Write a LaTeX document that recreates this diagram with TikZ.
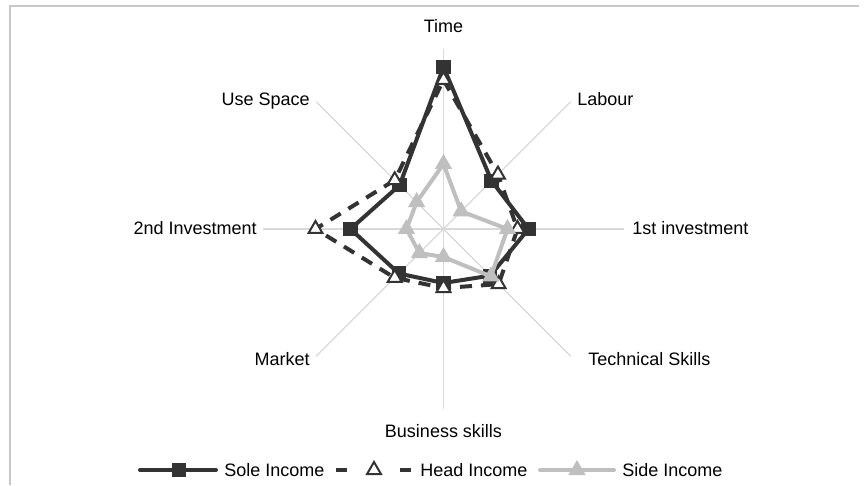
\documentclass[tikz,border=0pt]{standalone}
\usepackage{fontspec}
\setmainfont{Liberation Sans}
\usetikzlibrary{positioning,shapes.geometric}
\definecolor{darkline}{HTML}{333333}
\definecolor{lightline}{HTML}{BFBFBF}
\definecolor{axisline}{HTML}{D9D9D9}
\definecolor{frameline}{HTML}{C8C8C8}
\tikzset{
  axis/.style={axisline, line width=0.9pt},
  soleline/.style={darkline, line width=3pt, line join=round, line cap=round},
  headline/.style={darkline, line width=3pt, dash pattern=on 9pt off 6.75pt},
  sideline/.style={lightline, line width=3pt, line join=round, line cap=round},
  solemark/.style={rectangle, fill=darkline, draw=darkline, line width=0.75pt, minimum size=10pt, inner sep=0pt},
  headmark/.style={regular polygon, regular polygon sides=3, fill=white, draw=darkline, line width=1.5pt, minimum size=12pt, inner sep=0pt},
  sidemark/.style={regular polygon, regular polygon sides=3, fill=lightline, draw=lightline, line width=0.75pt, minimum size=13.5pt, inner sep=0pt},
  axislabel/.style={inner sep=0pt, font=\fontsize{13.5}{16}\selectfont},
}
\begin{document}
\begin{tikzpicture}[x=0.75pt,y=0.75pt]
      \useasboundingbox (-443.5,-256) rectangle (422.5,229);
      %Frame
      \coordinate (f1) at (-433,-256);
      \coordinate (f2) at (-433,223);
      \coordinate (f3) at (415.5,223);
      \draw[frameline, line width=1.5pt] (f1) -- (f2) -- (f3);
      %Axes
      \pgfmathsetmacro{\axisRadius}{180}
      \coordinate (o) at (0,0);
      \coordinate (a1) at (90:\axisRadius);
      \coordinate (a2) at (45:\axisRadius);
      \coordinate (a3) at (0:\axisRadius);
      \coordinate (a4) at (-45:\axisRadius);
      \coordinate (a5) at (-90:\axisRadius);
      \coordinate (a6) at (-135:\axisRadius);
      \coordinate (a7) at (180:\axisRadius);
      \coordinate (a8) at (135:\axisRadius);
      \draw[axis] (o) -- (a1);
      \draw[axis] (o) -- (a2);
      \draw[axis] (o) -- (a3);
      \draw[axis] (o) -- (a4);
      \draw[axis] (o) -- (a5);
      \draw[axis] (o) -- (a6);
      \draw[axis] (o) -- (a7);
      \draw[axis] (o) -- (a8);
      %Axis labels
      \node[axislabel, anchor=base] (time) at (0,196.7) {Time};
      \node[axislabel, anchor=base west] (labour) at (133.5,123.7) {Labour};
      \node[axislabel, anchor=base west] (inv1) at (188.5,-5.3) {1st investment};
      \node[axislabel, anchor=base west] (tech) at (144.5,-136) {Technical Skills};
      \node[axislabel, anchor=base] (business) at (0,-208) {Business skills};
      \node[axislabel, anchor=base east] (market) at (-133.5,-136) {Market};
      \node[axislabel, anchor=base east] (inv2) at (-186.5,-5.3) {2nd Investment};
      \node[axislabel, anchor=base east] (space) at (-133.5,123.7) {Use Space};
      %Sole Income
      \coordinate (s1) at (90:162);
      \coordinate (s2) at (45:68);
      \coordinate (s3) at (0:85);
      \coordinate (s4) at (-45:66);
      \coordinate (s5) at (-90:54);
      \coordinate (s6) at (-135:63);
      \coordinate (s7) at (180:93);
      \coordinate (s8) at (135:62);
      \draw[soleline] (s1) -- (s2) -- (s3) -- (s4) -- (s5) -- (s6) -- (s7) -- (s8) -- cycle;
      \node[solemark] (sm1) at (s1) {};
      \node[solemark] (sm2) at (s2) {};
      \node[solemark] (sm3) at (s3) {};
      \node[solemark] (sm4) at (s4) {};
      \node[solemark] (sm5) at (s5) {};
      \node[solemark] (sm6) at (s6) {};
      \node[solemark] (sm7) at (s7) {};
      \node[solemark] (sm8) at (s8) {};
      %Head Income
      \coordinate (h1) at (90:149);
      \coordinate (h2) at (45:77);
      \coordinate (h3) at (0:74);
      \coordinate (h4) at (-45:78);
      \coordinate (h5) at (-90:59);
      \coordinate (h6) at (-135:69);
      \coordinate (h7) at (180:128);
      \coordinate (h8) at (135:69);
      \draw[headline] (h1) -- (h2) -- (h3) -- (h4) -- (h5) -- (h6) -- (h7) -- (h8) -- cycle;
      \node[headmark] (hm1) at (h1) {};
      \node[headmark] (hm2) at (h2) {};
      \node[headmark] (hm3) at (h3) {};
      \node[headmark] (hm4) at (h4) {};
      \node[headmark] (hm5) at (h5) {};
      \node[headmark] (hm6) at (h6) {};
      \node[headmark] (hm7) at (h7) {};
      \node[headmark] (hm8) at (h8) {};
      %Side Income
      \coordinate (d1) at (90:65);
      \coordinate (d2) at (45:25);
      \coordinate (d3) at (0:64);
      \coordinate (d4) at (-45:67);
      \coordinate (d5) at (-90:28);
      \coordinate (d6) at (-135:34);
      \coordinate (d7) at (180:37);
      \coordinate (d8) at (135:38);
      \draw[sideline] (d1) -- (d2) -- (d3) -- (d4) -- (d5) -- (d6) -- (d7) -- (d8) -- cycle;
      \node[sidemark] (dm1) at (d1) {};
      \node[sidemark] (dm2) at (d2) {};
      \node[sidemark] (dm3) at (d3) {};
      \node[sidemark] (dm4) at (d4) {};
      \node[sidemark] (dm5) at (d5) {};
      \node[sidemark] (dm6) at (d6) {};
      \node[sidemark] (dm7) at (d7) {};
      \node[sidemark] (dm8) at (d8) {};
      %Legend
      \coordinate (la) at (-303.5,-241);
      \coordinate (lb) at (-227.5,-241);
      \draw[soleline] (la) -- (lb);
      \node[solemark] (lsm) at (-264.5,-241) {};
      \node[axislabel, anchor=base west] (lsole) at (-219.5,-247.3) {Sole Income};
      \coordinate (lc) at (-107.5,-241);
      \coordinate (ld) at (-32.5,-241);
      \draw[darkline, line width=3pt, dash pattern=on 8.25pt off 39.75pt on 8.25pt] (lc) -- (ld);
      \node[headmark] (lhm) at (-69.5,-241) {};
      \node[axislabel, anchor=base west] (lhead) at (-23.5,-247.3) {Head Income};
      \coordinate (le) at (96.5,-241);
      \coordinate (lf) at (170.5,-241);
      \draw[sideline] (le) -- (lf);
      \node[sidemark] (ldm) at (133.5,-241) {};
      \node[axislabel, anchor=base west] (lside) at (178.5,-247.3) {Side Income};
\end{tikzpicture}
\end{document}
